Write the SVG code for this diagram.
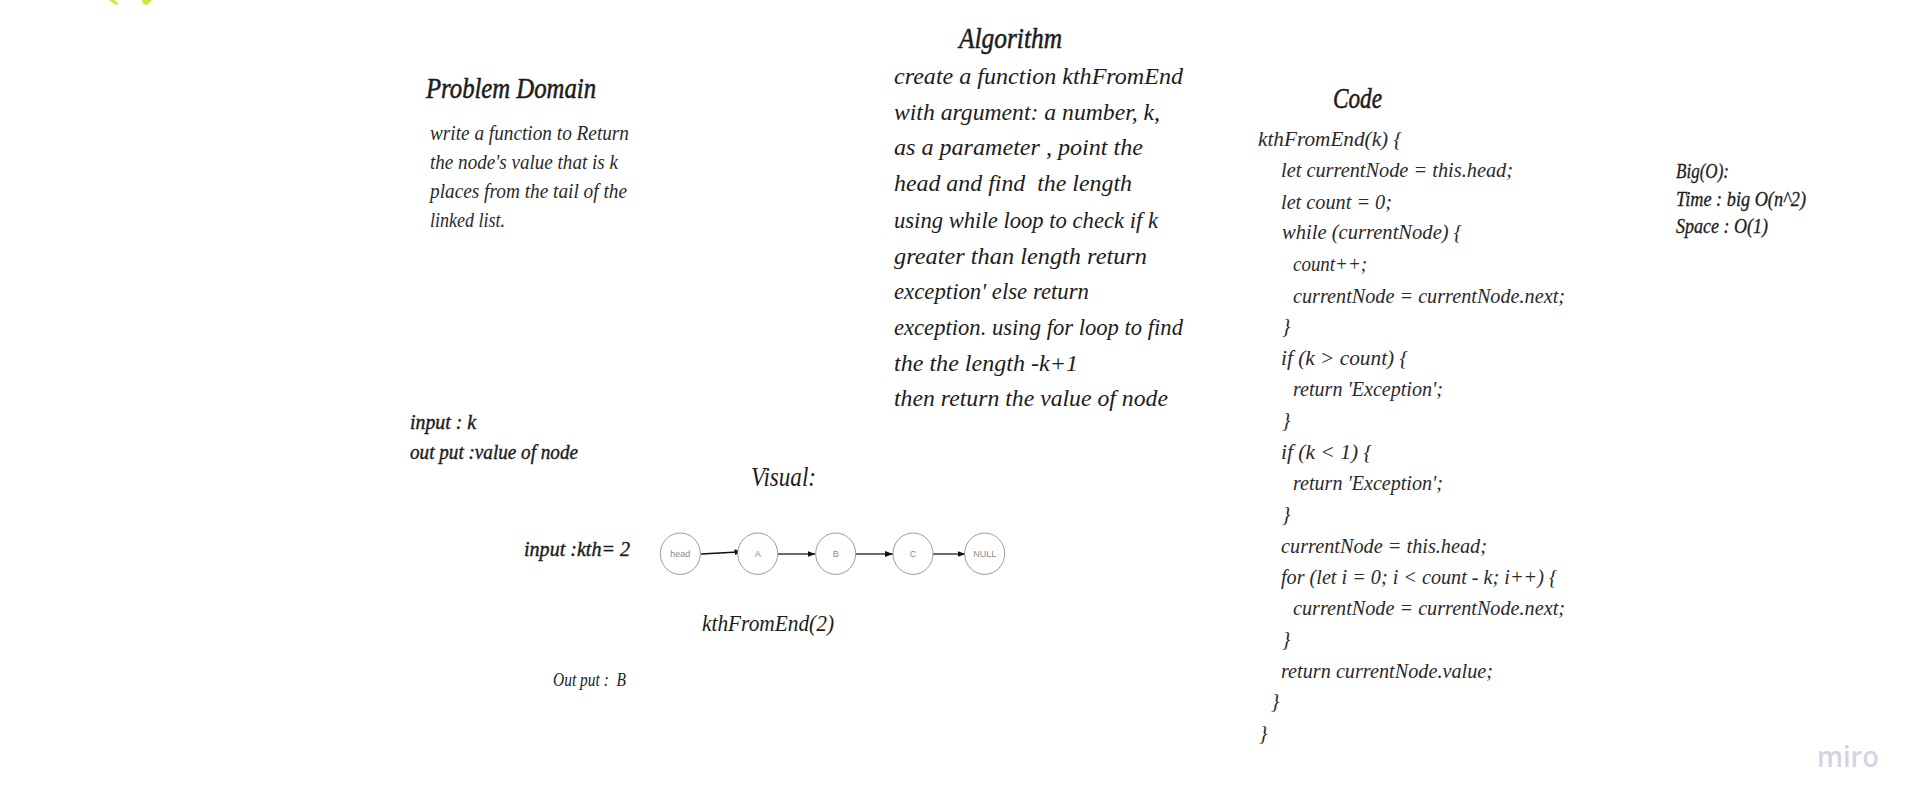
<svg xmlns="http://www.w3.org/2000/svg" width="1923" height="812" viewBox="0 0 1923 812">
<style>
text{white-space:pre;fill:#1c1c1c;font-family:"Liberation Serif","DejaVu Serif",serif;font-style:italic}
.h{font-size:30px;stroke:#1c1c1c;stroke-width:.55px}
.alg{font-size:24px}
.pd{font-size:20px;fill:#2a2a2a}
.code{font-size:21px;fill:#2a2a2a}
.io{font-size:20px;stroke:#1c1c1c;stroke-width:.4px}
.big{font-size:20px;stroke:#1c1c1c;stroke-width:.3px}
.nl{font-family:"Liberation Sans",Arial,sans-serif;font-style:normal;font-size:9px;fill:#8a8a8a;text-anchor:middle}
.n{fill:#fff;stroke:#8f8f8f;stroke-width:.9}
.c{fill:none;stroke:#3a3a3a;stroke-width:1.5;marker-end:url(#a)}
</style>
<defs>
<marker id="a" viewBox="0 0 8 6" refX="8" refY="3" markerWidth="8" markerHeight="6" markerUnits="userSpaceOnUse" orient="auto"><path d="M0 0L8 3L0 6Z" fill="#111"/></marker>
</defs>
<rect width="1923" height="812" fill="#fff"/>
<g id="logo-mark" fill="#c9e63f"><path d="M109 0h5l5 4-3 1Z"/><path d="M142 0h10l-5 5-4-1Z"/></g>
<g id="problem-domain">
<text class="h" x="426" y="98" textLength="170" lengthAdjust="spacingAndGlyphs">Problem Domain</text>
<text class="pd" x="430" y="140" textLength="199" lengthAdjust="spacingAndGlyphs">write a function to Return</text>
<text class="pd" x="430" y="169" textLength="188" lengthAdjust="spacingAndGlyphs">the node's value that is k</text>
<text class="pd" x="430" y="198" textLength="197" lengthAdjust="spacingAndGlyphs">places from the tail of the</text>
<text class="pd" x="430" y="227" textLength="75" lengthAdjust="spacingAndGlyphs">linked list.</text>
</g>
<g id="io">
<text class="io" x="410" y="429" textLength="66" lengthAdjust="spacingAndGlyphs">input : k</text>
<text class="io" x="410" y="459" textLength="168" lengthAdjust="spacingAndGlyphs">out put :value of node</text>
</g>
<g id="algorithm">
<text class="h" x="959" y="48" textLength="103" lengthAdjust="spacingAndGlyphs">Algorithm</text>
<text class="alg" x="894" y="84" textLength="289" lengthAdjust="spacingAndGlyphs">create a function kthFromEnd</text>
<text class="alg" x="894" y="120" textLength="266" lengthAdjust="spacingAndGlyphs">with argument: a number, k,</text>
<text class="alg" x="894" y="155" textLength="249" lengthAdjust="spacingAndGlyphs">as a parameter , point the</text>
<text class="alg" x="894" y="191" textLength="238" lengthAdjust="spacingAndGlyphs">head and find  the length</text>
<text class="alg" x="894" y="228" textLength="264" lengthAdjust="spacingAndGlyphs">using while loop to check if k</text>
<text class="alg" x="894" y="264" textLength="253" lengthAdjust="spacingAndGlyphs">greater than length return</text>
<text class="alg" x="894" y="299" textLength="195" lengthAdjust="spacingAndGlyphs">exception' else return</text>
<text class="alg" x="894" y="335" textLength="289" lengthAdjust="spacingAndGlyphs">exception. using for loop to find</text>
<text class="alg" x="894" y="371" textLength="184" lengthAdjust="spacingAndGlyphs">the the length -k+1</text>
<text class="alg" x="894" y="406" textLength="274" lengthAdjust="spacingAndGlyphs">then return the value of node</text>
</g>
<g id="visual-title"><text x="751" y="486" font-size="28" textLength="65" lengthAdjust="spacingAndGlyphs">Visual:</text></g>
<g id="input-kth"><text class="io" x="524" y="556" textLength="106" lengthAdjust="spacingAndGlyphs">input :kth= 2</text></g>
<g id="call"><text x="702" y="631" font-size="24" textLength="132" lengthAdjust="spacingAndGlyphs">kthFromEnd(2)</text></g>
<g id="output"><text x="553" y="686" font-size="19" textLength="73" lengthAdjust="spacingAndGlyphs">Out put :  B</text></g>
<g id="connectors">
<path class="c" style="stroke:#111" d="M701 554L742.5 551.7"/>
<path class="c" d="M778 554H815.5"/>
<path class="c" d="M856 554H893"/>
<path class="c" d="M933 554H965.5"/>
</g>
<g id="node-head"><ellipse class="n" cx="680.3" cy="553.7" rx="20" ry="20.7"/><text class="nl" x="680.3" y="557">head</text></g>
<g id="node-a"><ellipse class="n" cx="757.7" cy="553.7" rx="20" ry="20.7"/><text class="nl" x="757.7" y="557">A</text></g>
<g id="node-b"><ellipse class="n" cx="835.7" cy="553.7" rx="20" ry="20.7"/><text class="nl" x="835.7" y="557">B</text></g>
<g id="node-c"><ellipse class="n" cx="913" cy="553.7" rx="20" ry="20.7"/><text class="nl" x="913" y="557">C</text></g>
<g id="node-null"><ellipse class="n" cx="984.7" cy="553.7" rx="20" ry="20.7"/><text class="nl" x="984.7" y="557">NULL</text></g>
<g id="code">
<text class="h" x="1333" y="108" textLength="49" lengthAdjust="spacingAndGlyphs">Code</text>
<text class="code" x="1258" y="146" textLength="144" lengthAdjust="spacingAndGlyphs">kthFromEnd(k) {</text>
<text class="code" x="1281" y="177" textLength="232" lengthAdjust="spacingAndGlyphs">let currentNode = this.head;</text>
<text class="code" x="1281" y="209" textLength="111" lengthAdjust="spacingAndGlyphs">let count = 0;</text>
<text class="code" x="1282" y="239" textLength="180" lengthAdjust="spacingAndGlyphs">while (currentNode) {</text>
<text class="code" x="1293" y="271" textLength="74" lengthAdjust="spacingAndGlyphs">count++;</text>
<text class="code" x="1293" y="303" textLength="272" lengthAdjust="spacingAndGlyphs">currentNode = currentNode.next;</text>
<text class="code" x="1282" y="333">}</text>
<text class="code" x="1281" y="365" textLength="127" lengthAdjust="spacingAndGlyphs">if (k &gt; count) {</text>
<text class="code" x="1293" y="396" textLength="150" lengthAdjust="spacingAndGlyphs">return 'Exception';</text>
<text class="code" x="1282" y="427">}</text>
<text class="code" x="1281" y="459" textLength="91" lengthAdjust="spacingAndGlyphs">if (k &lt; 1) {</text>
<text class="code" x="1293" y="490" textLength="150" lengthAdjust="spacingAndGlyphs">return 'Exception';</text>
<text class="code" x="1282" y="521">}</text>
<text class="code" x="1281" y="553" textLength="206" lengthAdjust="spacingAndGlyphs">currentNode = this.head;</text>
<text class="code" x="1281" y="584" textLength="276" lengthAdjust="spacingAndGlyphs">for (let i = 0; i &lt; count - k; i++) {</text>
<text class="code" x="1293" y="615" textLength="272" lengthAdjust="spacingAndGlyphs">currentNode = currentNode.next;</text>
<text class="code" x="1282" y="646">}</text>
<text class="code" x="1281" y="678" textLength="212" lengthAdjust="spacingAndGlyphs">return currentNode.value;</text>
<text class="code" x="1271" y="708">}</text>
<text class="code" x="1259" y="740">}</text>
</g>
<g id="big-o">
<text class="big" x="1676" y="178" textLength="53" lengthAdjust="spacingAndGlyphs">Big(O):</text>
<text class="big" x="1676" y="206" textLength="130" lengthAdjust="spacingAndGlyphs">Time : big O(n^2)</text>
<text class="big" x="1676" y="233" textLength="92" lengthAdjust="spacingAndGlyphs">Space : O(1)</text>
</g>
<g id="miro"><text x="1817" y="767" style="font-family:'Open Sans','Liberation Sans',sans-serif;font-style:normal;font-weight:600;fill:#d4d4e0" font-size="28" textLength="62" lengthAdjust="spacingAndGlyphs">miro</text></g>
</svg>
